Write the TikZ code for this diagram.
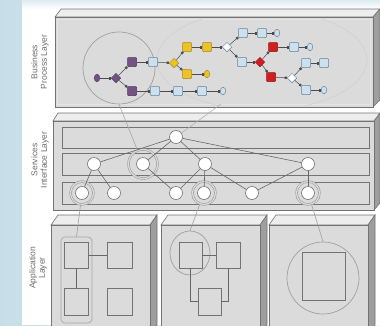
\documentclass[tikz,border=0pt]{standalone}
\usepackage{fontspec}
\setmainfont{Liberation Sans}
\usetikzlibrary{arrows.meta,shapes.geometric}
\definecolor{bgblue}{rgb}{0.78,0.87,0.91}
\definecolor{faceF}{rgb}{0.86,0.86,0.86}
\definecolor{faceT}{rgb}{0.93,0.93,0.93}
\definecolor{faceS}{rgb}{0.62,0.62,0.62}
\definecolor{edgeG}{rgb}{0.45,0.45,0.45}
\definecolor{pur}{rgb}{0.45,0.32,0.52}
\definecolor{yel}{rgb}{0.93,0.76,0.15}
\definecolor{redd}{rgb}{0.82,0.12,0.12}
\definecolor{lblue}{rgb}{0.80,0.88,0.93}
\definecolor{lbluedraw}{rgb}{0.40,0.50,0.60}
\tikzset{
  face/.style={draw=edgeG, line width=0.6pt},
  sq/.style={rectangle, minimum size=9pt, inner sep=0pt, line width=0.5pt, rounded corners=0.8pt},
  psq/.style={sq, fill=pur, draw=pur!70!black},
  ysq/.style={sq, fill=yel, draw=yel!70!black},
  rsq/.style={sq, fill=redd, draw=redd!70!black},
  bsq/.style={sq, fill=lblue, draw=lbluedraw},
  dia/.style={diamond, minimum size=9.5pt, inner sep=0pt, line width=0.5pt},
  pdia/.style={dia, fill=pur, draw=pur!70!black},
  ydia/.style={dia, fill=yel, draw=yel!70!black},
  rdia/.style={dia, fill=redd, draw=redd!70!black},
  wdia/.style={dia, fill=white, draw=lbluedraw},
  endc/.style={ellipse, minimum width=5.5pt, minimum height=7.5pt, inner sep=0pt, line width=0.5pt, fill=lblue, draw=lbluedraw},
  yendc/.style={endc, fill=yel, draw=yel!70!black},
  pstart/.style={endc, fill=pur, draw=pur!70!black},
  flow/.style={draw=black!70, line width=0.5pt, -{Square[length=2.2pt,width=2.2pt]}, shorten >=0.3pt},
  svc/.style={circle, minimum size=13pt, inner sep=0pt, fill=white, draw=edgeG, line width=0.6pt},
  ring/.style={circle, minimum size=23pt, inner sep=0pt, draw=edgeG!70, line width=0.6pt, double=faceF, double distance=1.2pt},
  sline/.style={draw=edgeG!90!black, line width=0.6pt},
  hl/.style={draw=gray!75, line width=0.7pt},
  appsq/.style={rectangle, draw=edgeG, line width=0.8pt, fill=faceF, inner sep=0pt},
  lbl/.style={text=gray!85!black, font=\fontsize{8.5}{9.5}\selectfont, align=center, rotate=90}
}
\begin{document}
\begin{tikzpicture}[x=1pt,y=-1pt]
\useasboundingbox (0,0) rectangle (380,325);
% background
\shade[left color=bgblue, right color=bgblue!30!white] (0,0) rectangle (380,325);
\fill[white] (22,9) rectangle (380,325);
\shade[top color=bgblue!60!white, bottom color=white] (22,0) rectangle (380,9);

% ===== Business process layer box =====
\filldraw[face, fill=faceT] (55,17) -- (61,9) -- (380,9) -- (373,17) -- cycle;
\filldraw[face, fill=faceS] (373,17) -- (380,9) -- (380,100) -- (373,107) -- cycle;
\filldraw[face, fill=faceF] (55,17) rectangle (373,107);
\draw[white!80!gray, line width=0.5pt] (57.5,19.5) rectangle (370.5,104.5);

% ===== Services layer box =====
\filldraw[face, fill=faceT] (53,121) -- (58,113) -- (380,113) -- (374,121) -- cycle;
\filldraw[face, fill=faceS] (374,121) -- (380,113) -- (380,203) -- (374,210) -- cycle;
\filldraw[face, fill=faceF] (53,121) rectangle (374,210);
\filldraw[face, fill=faceF] (62,127) rectangle (369,148);
\filldraw[face, fill=faceF] (62,153) rectangle (369,175);
\filldraw[face, fill=faceF] (62,182) rectangle (369,204);

% ===== Application layer boxes =====
\foreach \xa/\xb in {51/150, 161/260, 269/368}{
  \filldraw[face, fill=faceT] (\xa,225) -- (\xa+7,215) -- (\xb+7,215) -- (\xb,225) -- cycle;
  \filldraw[face, fill=faceS] (\xb,225) -- (\xb+7,215) -- (\xb+7,325) -- (\xb,330) -- cycle;
  \filldraw[face, fill=faceF] (\xa,225) rectangle (\xb,330);
}

% ===== labels =====
\node[lbl] (lb1) at (40,62) {Business\\Process Layer};
\node[lbl] (lb2) at (40,160) {Services\\Interface Layer};
\node[lbl] (lb3) at (38,268) {Application\\Layer};

% ===== highlight shapes in BPL =====
\node[circle, hl, minimum size=72pt, inner sep=0pt] (hc1) at (119,68) {};
\begin{scope}
\clip (57,19) rectangle (371,105);
\node[ellipse, draw=gray!35, line width=0.7pt, minimum width=210pt, minimum height=100pt, inner sep=0pt] (hc2) at (262,60) {};
\end{scope}

% ===== process diagram =====
\node[pstart] (s0) at (97,78) {};
\node[pdia] (pd) at (116,78) {};
\node[psq] (p1) at (132,62) {};
\node[psq] (p2) at (132,91) {};
\node[bsq] (b1) at (153,62) {};
\node[ydia] (yd) at (174,63) {};
\node[ysq] (y1) at (187,47) {};
\node[ysq] (y2) at (207,47) {};
\node[wdia] (wd1) at (227,47) {};
\node[ysq] (y3) at (187,74) {};
\node[yendc] (ye) at (207,74) {};
\node[bsq] (b2) at (155,91) {};
\node[bsq] (b3) at (178,91) {};
\node[bsq] (b4) at (202,91) {};
\node[endc] (e1) at (223,91) {};
\node[bsq] (b5) at (243,33) {};
\node[bsq] (b6) at (262,33) {};
\node[endc] (e2) at (277,33) {};
\node[bsq] (b7) at (242,62) {};
\node[rdia] (rd) at (260,62) {};
\node[rsq] (r1) at (273,47) {};
\node[bsq] (b8) at (294,47) {};
\node[endc] (e3) at (310,47) {};
\node[rsq] (r2) at (271,77) {};
\node[wdia] (wd2) at (292,78) {};
\node[bsq] (b9) at (306,63) {};
\node[bsq] (b10) at (324,63) {};
\node[bsq] (b11) at (306,90) {};
\node[endc] (e4) at (324,90) {};
\foreach \a/\b in {s0/pd, pd/p1, pd/p2, p1/b1, b1/yd, yd/y1, y1/y2, y2/wd1, yd/y3, y3/ye,
  p2/b2, b2/b3, b3/b4, b4/e1, wd1/b5, b5/b6, b6/e2, wd1/b7, b7/rd, rd/r1, r1/b8, b8/e3,
  rd/r2, r2/wd2, wd2/b9, b9/b10, wd2/b11, b11/e4}
  \draw[flow] (\a) -- (\b);

% ===== services =====
\node[ring, minimum size=29pt] (rb) at (143,164) {};
\node[ring] (re) at (82,193) {};
\node[ring] (rh) at (204,193) {};
\node[ring] (rj) at (308,193) {};
\node[svc] (t) at (176,137) {};
\node[svc] (a) at (94,164) {};
\node[svc] (b) at (143,164) {};
\node[svc] (c) at (205,164) {};
\node[svc] (d) at (308,164) {};
\node[svc] (e) at (82,193) {};
\node[svc] (f) at (114,193) {};
\node[svc] (g) at (176,193) {};
\node[svc] (h) at (204,193) {};
\node[svc] (i) at (252,193) {};
\node[svc] (j) at (308,193) {};
\foreach \p/\q in {t/a, t/b, t/c, t/d, a/e, a/f, b/g, c/g, c/h, c/i, d/i, d/j}
  \draw[sline] (\p) -- (\q);

% links between layers
\coordinate (hc2b) at (221,104);
\draw[sline, draw=gray!70] (hc1.south) -- (rb);
\draw[sline, draw=gray!60] (t) -- (hc2b);

% ===== application contents =====
\node[draw=gray!70, line width=0.7pt, rounded corners=4pt, minimum width=31pt, minimum height=86pt, inner sep=0pt] (sel1) at (76.5,280) {};
\node[appsq, minimum width=24pt, minimum height=26pt] (q1) at (76,255) {};
\node[appsq, minimum width=25pt, minimum height=26pt] (q2) at (119.5,255) {};
\node[appsq, minimum width=24pt, minimum height=27pt] (q3) at (76,301.5) {};
\node[appsq, minimum width=25pt, minimum height=27pt] (q4) at (119.5,301.5) {};
\draw[sline, line width=0.8pt] (q1) -- (q2);
\draw[sline, line width=0.8pt] (q1) -- (q3);

\node[ellipse, hl, minimum width=40pt, minimum height=44pt, inner sep=0pt] (sel2) at (190,253) {};
\node[appsq, minimum width=23pt, minimum height=26pt] (u1) at (190.5,255) {};
\node[appsq, minimum width=24pt, minimum height=26pt] (u2) at (228,255) {};
\node[appsq, minimum width=23pt, minimum height=27pt] (u3) at (209.5,301.5) {};
\draw[sline, line width=0.8pt] (u1) -- (u2);
\draw[sline, line width=0.8pt] (u1.south) |- (u3.west);
\draw[sline, line width=0.8pt] (u2.south) |- (u3.east);

\node[circle, hl, minimum size=72pt, inner sep=0pt] (sel3) at (323,278) {};
\node[appsq, minimum width=43pt, minimum height=48pt] (w1) at (323.5,276) {};

\draw[sline, draw=gray!75] (re) -- (sel1.north);
\draw[sline, draw=gray!75] (rh) -- (sel2.north);
\draw[sline, draw=gray!75] (rj) -- (sel3.north);
\end{tikzpicture}
\end{document}
